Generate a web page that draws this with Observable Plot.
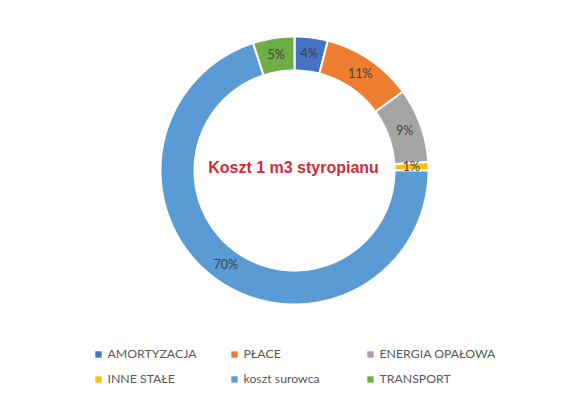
<!DOCTYPE html>
<html>
<head>
<meta charset="utf-8">
<script src="https://cdn.jsdelivr.net/npm/d3@7"></script>
<script src="https://cdn.jsdelivr.net/npm/@observablehq/plot@0.6"></script>
<style>
  html, body { margin: 0; padding: 0; background: #fff; }
  #chart { width: 588px; height: 398px; }
</style>
</head>
<body>
<div id="chart"></div>
<script>
const title = "Koszt 1 m3 styropianu";
const categories = ["AMORTYZACJA", "PŁACE", "ENERGIA OPAŁOWA", "INNE STAŁE", "koszt surowca", "TRANSPORT"];
const values = [4, 11, 9, 1, 70, 5];
const labels = ["4%", "11%", "9%", "1%", "70%", "5%"];
const colors = ["#4472C4", "#ED7D31", "#A5A5A5", "#FFC000", "#5B9BD5", "#70AD47"];

// layout
const W = 588, H = 398;
const cx = 294, cy = 170, rOuter = 134, rInner = 100, rLabel = 117;

const pie = d3.pie().sort(null).value(d => d.value)(
  categories.map((c, i) => ({cat: c, value: values[i], label: labels[i]}))
);

// polygon points for each slice (angles clockwise from 12 o'clock)
const ringPts = [];
for (const p of pie) {
  const n = Math.max(4, Math.ceil((p.endAngle - p.startAngle) / (Math.PI / 360)));
  const pts = [];
  for (let k = 0; k <= n; k++) {
    const a = p.startAngle + (p.endAngle - p.startAngle) * k / n;
    pts.push({cat: p.data.cat, x: cx + rOuter * Math.sin(a), y: cy - rOuter * Math.cos(a)});
  }
  for (let k = n; k >= 0; k--) {
    const a = p.startAngle + (p.endAngle - p.startAngle) * k / n;
    pts.push({cat: p.data.cat, x: cx + rInner * Math.sin(a), y: cy - rInner * Math.cos(a)});
  }
  pts.push({...pts[0]});
  ringPts.push(...pts);
}

const labelPts = pie.map(p => {
  const a = (p.startAngle + p.endAngle) / 2;
  return {cat: p.data.cat, label: p.data.label, x: cx + rLabel * Math.sin(a), y: cy - rLabel * Math.cos(a)};
});

const colX = [98, 234, 370], rowY = [354, 379];
const legend = categories.map((c, i) => ({cat: c, x: colX[i % 3], y: rowY[Math.floor(i / 3)]}));

const chart = Plot.plot({
  width: W, height: H, margin: 0,
  style: {background: "#fff"},
  x: {domain: [0, W], range: [0, W], axis: null},
  y: {domain: [0, H], range: [0, H], axis: null},
  color: {domain: categories, range: colors},
  marks: [
    Plot.line(ringPts, {x: "x", y: "y", z: "cat", fill: "cat", stroke: "white", strokeWidth: 2, curve: "linear"}),
    Plot.text(labelPts, {x: "x", y: "y", text: "label", fill: "#404040", fontSize: 12.5, fontFamily: "Lato, 'Open Sans', sans-serif"}),
    Plot.text([title], {x: [cx - 1], y: [cy - 3], text: d => d, fill: "#D42A3A", fontSize: 16, fontWeight: "bold", fontFamily: "'Liberation Sans', Arial, sans-serif"}),
    Plot.dot(legend, {x: "x", y: "y", symbol: "square", r: 3.6, fill: "cat", stroke: null}),
    Plot.text(legend, {x: d => d.x + 9, y: "y", text: "cat", textAnchor: "start", fill: "#595959", fontSize: 12.3, fontFamily: "Lato, 'Open Sans', sans-serif"})
  ]
});
document.getElementById("chart").appendChild(chart);
</script>
</body>
</html>
